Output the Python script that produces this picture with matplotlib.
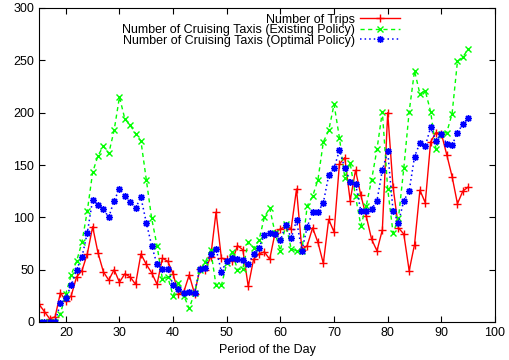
import matplotlib
matplotlib.use('Agg')
import matplotlib.pyplot as plt
import numpy as np

plt.rcParams['font.family'] = ['Liberation Sans', 'DejaVu Sans']

# periods of the day
periods = list(range(15, 96))

trips = [17, 10, 3, 5, 28, 20, 25, 43, 49, 65, 91, 66, 48, 40, 50, 38, 46, 43, 36, 65,
         55, 47, 36, 61, 58, 46, 27, 29, 45, 27, 51, 50, 62, 105, 61, 60, 58, 73, 69, 34,
         60, 65, 67, 60, 85, 89, 91, 89, 127, 69, 73, 90, 76, 56, 98, 86, 151, 157, 116, 145,
         121, 101, 79, 68, 88, 200, 129, 90, 84, 49, 74, 126, 114, 172, 181, 180, 160, 139, 113, 125,
         129]

existing = [0, 0, 0, 0, 8, 27, 45, 58, 76, 106, 143, 159, 168, 161, 183, 215, 194, 188, 180, 173,
            136, 99, 73, 41, 43, 25, 37, 25, 13, 28, 50, 57, 69, 35, 35, 56, 67, 50, 51, 76,
            71, 78, 100, 109, 85, 68, 94, 70, 68, 68, 111, 120, 136, 172, 183, 208, 176, 138, 152, 120,
            92, 111, 136, 165, 201, 127, 85, 99, 147, 201, 240, 218, 221, 201, 165, 180, 181, 199, 249, 253,
            261]

optimal = [0, 0, 0, 0, 18, 23, 35, 50, 62, 85, 117, 112, 108, 100, 116, 127, 120, 115, 109, 119,
           95, 73, 55, 51, 51, 35, 32, 28, 29, 28, 51, 52, 65, 70, 48, 58, 61, 60, 59, 55,
           65, 71, 83, 85, 84, 78, 93, 80, 97, 68, 91, 105, 105, 114, 140, 147, 164, 147, 134, 132,
           106, 106, 108, 116, 145, 163, 106, 95, 116, 125, 158, 171, 168, 186, 173, 180, 170, 169, 181, 189,
           195]

fig = plt.figure(figsize=(5.1, 3.6), dpi=100)
ax = fig.add_axes([39 / 510, 1 - 322 / 360, 456 / 510, 314 / 360])

ax.plot(periods, trips, color='#ff0000', linestyle='-', linewidth=1,
        marker='+', markersize=6, markeredgewidth=1, label='Number of Trips')
ax.plot(periods, existing, color='#00ff00', linestyle=(0, (3, 2.5)), linewidth=1,
        marker='x', markersize=5, markeredgewidth=1,
        label='Number of Cruising Taxis (Existing Policy)')
ax.plot(periods, optimal, color='#0000ff', linestyle=(0, (1, 2)), linewidth=1.1,
        marker=(8, 2, 0), markersize=5, markeredgewidth=1,
        label='Number of Cruising Taxis (Optimal Policy)')

ax.set_xlim(15, 100)
ax.set_ylim(0, 300)
ax.set_xticks(range(20, 101, 10))
ax.set_yticks(range(0, 301, 50))
ax.tick_params(direction='in', top=True, right=True, labelsize=9, length=4, width=0.8)
ax.set_xlabel('Period of the Day', fontsize=9, labelpad=4)

leg = ax.legend(loc='upper right', bbox_to_anchor=(0.81, 1.01), frameon=False,
                markerfirst=False, fontsize=9, handlelength=3.2, labelspacing=-0.12,
                handletextpad=0.4, borderpad=0.2)

fig.savefig('out.png', dpi=100)
